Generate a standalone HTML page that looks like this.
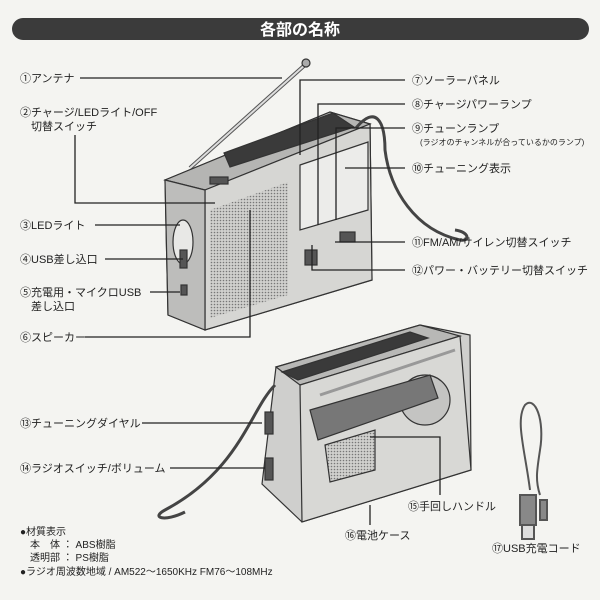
<!DOCTYPE html>
<html><head><meta charset="utf-8"><style>
html,body{margin:0;padding:0;background:#f4f4f1}
svg{display:block}
text{font-family:"Liberation Sans","Noto Sans CJK JP",sans-serif;fill:#222}
</style></head><body>
<svg width="600" height="600" viewBox="0 0 600 600" xmlns="http://www.w3.org/2000/svg">
<defs>
<pattern id="dots" width="3" height="3" patternUnits="userSpaceOnUse"><rect width="3" height="3" fill="#d0d0cd"/><circle cx="1.5" cy="1.5" r="0.8" fill="#777"/></pattern>
</defs>
<rect width="600" height="600" fill="#f4f4f1"/>
<rect x="12" y="18" width="577" height="22" rx="11" fill="#3b3b3b"/>
<text x="300" y="35" font-size="16" font-weight="bold" text-anchor="middle" style="fill:#fff">各部の名称</text>

<!-- front radio -->
<g stroke="#333" stroke-width="1.2">
<line x1="190" y1="168" x2="306" y2="64" stroke-width="4" stroke="#555"/>
<line x1="190" y1="168" x2="306" y2="64" stroke-width="2" stroke="#ddd"/>
<circle cx="306" cy="63" r="4" fill="#aaa"/>
<polygon points="165,180 330,112 370,124 372,280 205,330 168,315" fill="#c9c9c7"/>
<polygon points="165,180 330,112 370,124 205,190" fill="#b5b5b3"/>
<polygon points="224,153 333,113 354,127 230,167" fill="#3a3a3a"/>
<polygon points="205,190 370,124 372,280 205,330" fill="#d6d6d3"/>
<polygon points="165,180 205,190 205,330 168,315" fill="#bdbdbb"/>
<polygon points="210,210 288,182 288,295 210,318" fill="url(#dots)" stroke="none"/>
<polygon points="300,165 368,142 368,210 300,230" fill="#ececea"/>
<rect x="340" y="232" width="15" height="10" fill="#555"/>
<rect x="305" y="250" width="12" height="15" fill="#555"/>
<rect x="210" y="177" width="18" height="7" fill="#555"/>
<ellipse cx="183" cy="242" rx="10" ry="22" fill="#e8e8e6"/>
<rect x="180" y="250" width="7" height="18" fill="#555"/>
<rect x="181" y="285" width="6" height="10" fill="#555"/>
<path d="M356,128 C375,105 385,120 385,150 C390,190 415,230 460,240 C470,242 470,232 455,230" fill="none" stroke="#444" stroke-width="3"/>
</g>

<!-- back radio -->
<g stroke="#333" stroke-width="1.2">
<polygon points="276,367 420,325 470,335 471,470 302,522 262,484" fill="#cfcfcd"/>
<polygon points="276,367 420,325 460,336 300,385" fill="#b8b8b6"/>
<polygon points="282,372 410,332 428,338 298,380" fill="#3a3a3a"/>
<polygon points="300,385 460,336 471,470 302,522" fill="#d8d8d5"/>
<circle cx="425" cy="400" r="25" fill="#c4c4c2"/>
<polygon points="310,410 430,375 438,398 318,440" fill="#777"/>
<polygon points="325,445 375,430 375,470 330,482" fill="url(#dots)"/>
<line x1="320" y1="395" x2="455" y2="350" stroke-width="3" stroke="#999"/>
<rect x="265" y="412" width="8" height="22" fill="#555"/>
<rect x="265" y="458" width="8" height="22" fill="#555"/>
<path d="M275,385 C250,410 240,470 165,510 C150,518 165,522 185,512" fill="none" stroke="#444" stroke-width="3"/>
</g>

<!-- USB cord -->
<g fill="none" stroke="#555" stroke-width="2">
<path d="M530,490 C525,450 515,420 525,405 C535,395 545,420 540,450 C537,470 535,480 540,495"/>
<rect x="520" y="495" width="16" height="30" fill="#888"/>
<rect x="522" y="525" width="12" height="14" fill="#ddd"/>
<rect x="540" y="500" width="7" height="20" fill="#888"/>
</g>

<!-- leader lines -->
<g stroke="#222" stroke-width="1.3" fill="none">
<polyline points="80,78 282,78"/>
<polyline points="75,135 75,203 215,203"/>
<polyline points="95,225 180,225"/>
<polyline points="105,259 183,259"/>
<polyline points="150,292 180,292"/>
<polyline points="85,337 250,337 250,210"/>
<polyline points="405,80 300,80 300,155"/>
<polyline points="405,104 318,104 318,225"/>
<polyline points="405,128 336,128 336,220"/>
<polyline points="405,168 345,168"/>
<polyline points="405,242 335,242"/>
<polyline points="312,245 312,270 405,270"/>
<polyline points="142,423 262,423"/>
<polyline points="170,468 265,468"/>
<polyline points="370,437 440,437 440,495"/>
<polyline points="370,505 370,525"/>
</g>

<g font-size="11">
<text x="20" y="82">①アンテナ</text>
<text x="20" y="116">②チャージ/LEDライト/OFF</text>
<text x="31" y="130">切替スイッチ</text>
<text x="20" y="229">③LEDライト</text>
<text x="20" y="263">④USB差し込口</text>
<text x="20" y="296">⑤充電用・マイクロUSB</text>
<text x="31" y="310">差し込口</text>
<text x="20" y="341">⑥スピーカー</text>
<text x="412" y="84">⑦ソーラーパネル</text>
<text x="412" y="108">⑧チャージパワーランプ</text>
<text x="412" y="132">⑨チューンランプ</text>
<text x="420" y="145" font-size="8">(ラジオのチャンネルが合っているかのランプ)</text>
<text x="412" y="172">⑩チューニング表示</text>
<text x="412" y="246">⑪FM/AM/サイレン切替スイッチ</text>
<text x="412" y="274">⑫パワー・バッテリー切替スイッチ</text>
<text x="20" y="427">⑬チューニングダイヤル</text>
<text x="20" y="472">⑭ラジオスイッチ/ボリューム</text>
<text x="408" y="510">⑮手回しハンドル</text>
<text x="345" y="539">⑯電池ケース</text>
<text x="492" y="552">⑰USB充電コード</text>
</g>
<g font-size="10">
<text x="20" y="535">●材質表示</text>
<text x="30" y="548">本　体 ： ABS樹脂</text>
<text x="30" y="561">透明部 ： PS樹脂</text>
<text x="20" y="575">●ラジオ周波数地域 / AM522～1650KHz  FM76～108MHz</text>
</g>
</svg>
</body></html>
